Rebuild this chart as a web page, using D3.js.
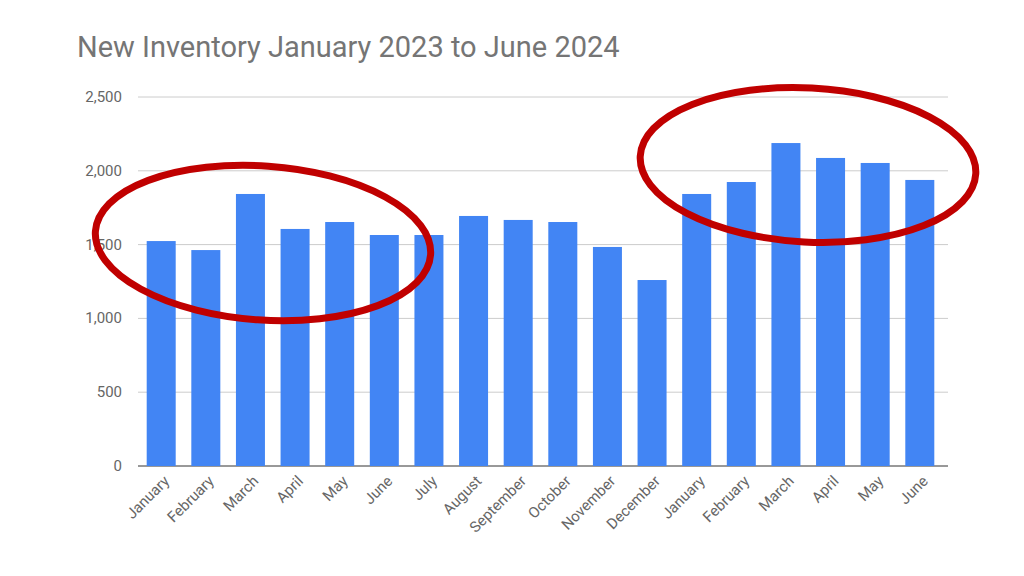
<!DOCTYPE html>
<html><head><meta charset="utf-8">
<script src="https://cdn.jsdelivr.net/npm/d3@7"></script>
<style>body{margin:0;background:#fff}text{font-family:Roboto,sans-serif}</style>
</head><body>
<svg id="c" width="1024" height="576"></svg>
<script>
var months = ["January","February","March","April","May","June","July","August","September","October","November","December","January","February","March","April","May","June"];
var inventory = [1524,1463,1843,1606,1653,1565,1565,1694,1667,1653,1484,1260,1843,1924,2188,2087,2053,1938];
var yTicks = [0,500,1000,1500,2000,2500];

var svg = d3.select('#c');
var x = d3.scaleBand().domain(d3.range(months.length)).range([140, 941]).paddingInner(0.35).paddingOuter(0.15);
var y = d3.scaleLinear().domain([0, 2500]).range([466, 97]);

svg.append('text').attr('x', 77).attr('y', 57).attr('fill', '#757575').attr('font-size', 29).text('New Inventory January 2023 to June 2024');

svg.selectAll('.grid').data(yTicks).enter().append('line')
  .attr('x1', 138).attr('x2', 948).attr('y1', d => y(d)).attr('y2', d => y(d))
  .attr('stroke', d => d === 0 ? '#333' : '#ccc').attr('stroke-width', 1);

svg.selectAll('.yl').data(yTicks).enter().append('text')
  .attr('x', 122).attr('y', d => y(d) + 5).attr('text-anchor', 'end')
  .attr('fill', '#666').attr('font-size', 15).text(d3.format(','));

svg.selectAll('.bar').data(inventory).enter().append('rect')
  .attr('x', (d, i) => x(i)).attr('width', x.bandwidth())
  .attr('y', d => y(d)).attr('height', d => y(0) - y(d)).attr('fill', '#4285f4');

svg.selectAll('.xl').data(months).enter().append('text')
  .attr('transform', (d, i) => 'translate(' + (x(i) + x.bandwidth() / 2 + 9) + ',482) rotate(-45)')
  .attr('text-anchor', 'end').attr('fill', '#666').attr('font-size', 15).text(d => d);

svg.append('ellipse').attr('cx', 263).attr('cy', 243).attr('rx', 168).attr('ry', 77)
  .attr('transform', 'rotate(4,263,243)')
  .attr('fill', 'none').attr('stroke', '#c00000').attr('stroke-width', 7);
svg.append('ellipse').attr('cx', 808).attr('cy', 165).attr('rx', 168).attr('ry', 77)
  .attr('transform', 'rotate(3,808,165)')
  .attr('fill', 'none').attr('stroke', '#c00000').attr('stroke-width', 7);
</script>
</body></html>
